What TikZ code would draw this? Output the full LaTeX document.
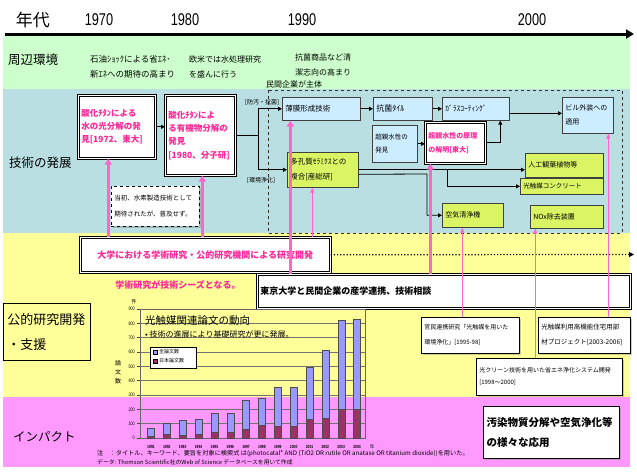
\documentclass[tikz,border=0pt]{standalone}
\usepackage{fontspec}
\setmainfont{Noto Sans CJK JP}
\newfontfamily\yearfont[FakeStretch=0.75]{Liberation Sans}
\usetikzlibrary{positioning}
\usetikzlibrary{calc}
\usetikzlibrary{arrows.meta}
\usetikzlibrary{shadows}

\definecolor{bandgreen}{RGB}{204,255,204}
\definecolor{bandteal}{RGB}{185,223,226}
\definecolor{bandyellow}{RGB}{255,255,153}
\definecolor{bandpink}{RGB}{255,153,255}
\definecolor{boxblue}{RGB}{204,236,255}
\definecolor{boxlime}{RGB}{218,245,100}
\definecolor{textmag}{RGB}{255,40,150}
\definecolor{linepink}{RGB}{255,102,204}
\definecolor{barblue}{RGB}{153,153,255}
\definecolor{barjp}{RGB}{153,51,102}

\begin{document}
\begin{tikzpicture}[x=1pt, y=-1pt,
    bandlbl/.style={anchor=west, inner sep=0pt, font=\fontsize{12.5}{15}\selectfont},
    envtxt/.style={anchor=west, inner sep=0pt, align=left, font=\fontsize{8}{15}\selectfont},
    yearlbl/.style={font=\yearfont\fontsize{17}{20}\selectfont},
    techbox/.style={rectangle, draw=black!75, line width=0.6pt, fill=boxblue, anchor=north west, inner sep=3pt, align=left},
    limebox/.style={techbox, fill=boxlime},
    keybox/.style={rectangle, draw=black, line width=0.6pt, double=white, double distance=1.2pt, fill=white, anchor=north west, inner sep=3pt, align=left, text=textmag, drop shadow={shadow xshift=1.5pt, shadow yshift=-1.5pt, opacity=0.4}},
    notebox/.style={rectangle, draw=black, line width=0.6pt, fill=white, anchor=north west, inner sep=3pt, align=left, drop shadow={shadow xshift=1.5pt, shadow yshift=-1.5pt, opacity=0.4}},
    conn/.style={line width=0.8pt, -{Triangle[length=4pt,width=4pt]}},
    seedline/.style={linepink, line width=2.5pt, -{Triangle[length=6pt,width=7pt]}},
    seedthin/.style={linepink, line width=1pt, -{Triangle[length=5pt,width=4pt]}},
    axlbl/.style={anchor=east, inner sep=0pt, font=\yearfont\fontsize{5}{6}\selectfont},
    chartgrid/.style={black!55, line width=0.5pt},
    ]
    \useasboundingbox (0,0) rectangle (637,474);

    % bands
    \fill[bandgreen] (3,36) rectangle (630,89);
    \fill[bandteal] (3,89) rectangle (630,233);
    \fill[bandyellow] (3,233) rectangle (630,397);
    \fill[bandpink] (3,397) rectangle (630,467);

    % time axis
    \node[font=\fontsize{17}{20}\selectfont] (era) at (33,20) {年代};
    \node[yearlbl] (y70) at (99,20) {1970};
    \node[yearlbl] (y80) at (185,20) {1980};
    \node[yearlbl] (y90) at (302,20) {1990};
    \node[yearlbl] (y00) at (532,20) {2000};
    \coordinate (axstart) at (5,34);
    \coordinate (axend) at (634,34);
    \draw[line width=3pt, -{Triangle[length=8pt,width=9pt]}] (axstart) -- (axend);

    % band titles
    \node[bandlbl] (env) at (8,60) {周辺環境};
    \node[bandlbl] (tech) at (9,163) {技術の発展};
    \node[bandlbl] (imp) at (13,437) {インパクト};

    % surroundings
    \node[envtxt, font=\fontsize{8.5}{15}\selectfont] (oil) at (90,66.5) {石油ｼｮｯｸによる省ｴﾈ･\\新ｴﾈへの期待の高まり};
    \node[envtxt] (water) at (189,66.5) {欧米では水処理研究\\を盛んに行う};
    \node[envtxt] (clean) at (295,64.5) {抗菌商品など清\\潔志向の高まり};
    \node[envtxt] (priv) at (266,84) {民間企業が主体};
    \draw[dashed, black!80, line width=0.6pt] (268,90) rectangle (622,233);

    % technology
    \node[keybox, text width=71pt, minimum height=63pt, font=\fontsize{8.5}{13}\selectfont\bfseries] (ti72) at (78,95) {酸化ﾁﾀﾝによる\\水の光分解の発\\見[1972、東大]};
    \node[keybox, text width=64pt, minimum height=80pt, font=\fontsize{8.5}{13.3}\selectfont\bfseries] (ti80) at (165,95) {酸化ﾁﾀﾝによ\\る有機物分解の\\発見\\{}[1980、分子研]};
    \node[notebox, dashed, drop shadow={opacity=0}, text width=82pt, minimum height=40pt, font=\fontsize{6.5}{16}\selectfont] (hope) at (111,186) {当初、水素製造技術として\\期待されたが、普及せず。};

    \node[font=\fontsize{6}{7}\selectfont, inner sep=0pt] (tagA) at (262,102) {[防汚・抗菌]};
    \node[font=\fontsize{6}{7}\selectfont, inner sep=0pt] (tagB) at (261,180) {[環境浄化]};

    \node[techbox, text width=72pt, minimum height=23pt, font=\fontsize{7.5}{9}\selectfont] (film) at (282,97) {薄膜形成技術};
    \node[techbox, text width=53pt, minimum height=23pt, font=\fontsize{8}{9}\selectfont] (tile) at (373,97) {抗菌ﾀｲﾙ};
    \node[techbox, text width=61pt, minimum height=23pt, font=\fontsize{7.5}{9}\selectfont] (glass) at (442,97) {ｶﾞﾗｽｺｰﾃｨﾝｸﾞ};
    \node[techbox, text width=45pt, minimum height=36pt, font=\fontsize{7}{14}\selectfont] (bill) at (562,97) {ビル外装への\\適用};
    \node[techbox, text width=39pt, minimum height=37pt, font=\fontsize{6.5}{13}\selectfont] (hakken) at (372,125) {超親水性の\\発見};
    \node[keybox, text width=54pt, minimum height=41pt, font=\fontsize{7}{14}\selectfont\bfseries] (genri) at (425,122) {超親水性の原理\\の解明[東大]};
    \node[limebox, text width=65pt, minimum height=35pt, font=\fontsize{7.5}{15}\selectfont] (poro) at (287,152) {多孔質ｾﾗﾐｸｽとの\\複合[産総研]};
    \node[limebox, text width=72pt, minimum height=24pt, font=\fontsize{7}{9}\selectfont] (jinko) at (525,153) {人工観葉植物等};
    \node[limebox, text width=77pt, minimum height=16pt, font=\fontsize{6.5}{8}\selectfont] (conc) at (520,178) {光触媒コンクリート};
    \node[limebox, text width=55pt, minimum height=24pt, font=\fontsize{7}{9}\selectfont] (air) at (442,203) {空気清浄機};
    \node[limebox, text width=67pt, minimum height=23pt, font=\fontsize{7}{9}\selectfont] (nox) at (530,205) {NOx除去装置};

    % technology flow
    \coordinate (fork) at (258,135);
    \coordinate (concbr) at (447,169.5);
    \coordinate (airbr) at (427,174);
    \draw[conn] (ti72.east) -- (ti72.east -| ti80.west);
    \draw[line width=0.8pt] (ti80.east |- fork) -- (fork);
    \draw[conn] (fork) |- (film.west);
    \draw[conn] (fork) |- (poro.west);
    \draw[conn] (film.east) -- (tile.west);
    \draw[conn] (tile.east) -- (glass.west);
    \draw[conn] ([yshift=-4.5pt]glass.east) -- ([yshift=-4.5pt]glass.east -| bill.west);
    \draw[conn] (hakken.east) -- (hakken.east -| genri.west);
    \draw[conn] (genri.east) -| ([xshift=24.5pt]glass.south);
    \draw[conn] (poro.east) -- (poro.east -| jinko.west);
    \draw[conn] (concbr) |- (conc.west);
    \draw[conn] ([yshift=-4.5pt]poro.east) -- (airbr) |- (air.west);

    % public research
    \node[keybox, minimum width=250pt, minimum height=35pt, align=center, font=\fontsize{9}{11}\selectfont\bfseries] (univ) at (80,237) {大学における学術研究・公的研究機関による研究開発};
    \coordinate (dotend) at (634,254.5);
    \draw[line width=1.2pt, dotted, -{Triangle[length=5pt,width=5pt]}] (univ.east) -- (dotend);
    \node[text=textmag, font=\fontsize{9}{11}\selectfont\bfseries] (seeds) at (178,285) {学術研究が技術シーズとなる。};
    \node[keybox, text=black, drop shadow={opacity=0}, text width=367pt, minimum height=34pt, font=\fontsize{9}{11}\selectfont\bfseries] (todai) at (257,274) {東京大学と民間企業の産学連携、技術相談};
    \node[rectangle, draw=black, line width=0.6pt, fill=bandyellow, anchor=north west, inner sep=4pt, text width=79pt, minimum height=57pt, align=left, font=\fontsize{13}{25}\selectfont] (pub) at (3,303) {公的研究開発\\・支援};
    \node[notebox, text width=92pt, minimum height=36pt, font=\fontsize{6}{15}\selectfont] (kanmin) at (421,317) {官民連携研究「光触媒を用いた\\環境浄化」[1995-98]};
    \node[notebox, text width=86pt, minimum height=36pt, font=\fontsize{6.5}{15}\selectfont] (jutaku) at (538,317) {光触媒利用高機能住宅用部\\材プロジェクト[2003-2006]};
    \node[notebox, text width=140pt, minimum height=37pt, font=\fontsize{6}{12}\selectfont] (hikari) at (476,358) {光クリーン技術を用いた省エネ浄化システム開発\\{}[1998～2000]};

    % impact
    \node[notebox, line width=1.2pt, text width=130pt, minimum height=52pt, font=\fontsize{10.5}{20}\selectfont\bfseries] (osen) at (483,406) {汚染物質分解や空気浄化等\\の様々な応用};

    % seeds arrows
    \draw[seedline] ([xshift=-8.5pt]ti72.south |- univ.north) -- ([xshift=-8.5pt]ti72.south);
    \draw[seedline] ([xshift=2pt]ti80.south |- univ.north) -- ([xshift=2pt]ti80.south);
    \draw[seedline] ([xshift=-31pt]film.south |- todai.north) -- ([xshift=-31pt]film.south);
    \draw[seedline] ([xshift=-25pt]genri.south |- todai.north) -- ([xshift=-25pt]genri.south);
    \draw[seedthin] ([xshift=-10.5pt]poro.south |- univ.north) -- ([xshift=-10.5pt]poro.south);
    \draw[seedthin] ([xshift=-10.5pt]air.south |- kanmin.north) -- ([xshift=-10.5pt]air.south);
    \draw[seedthin] ([xshift=-31.5pt]nox.south |- hikari.north) -- ([xshift=-31.5pt]nox.south);
    \draw[seedthin] ([xshift=20.5pt]bill.south |- jutaku.north) -- ([xshift=20.5pt]bill.south);

    % paper chart
    \foreach \v in {100,200,...,800}
        \draw[chartgrid] (140,{438-\v*0.1433}) -- (365,{438-\v*0.1433});
    \draw[black!60, line width=0.6pt] (140,309) rectangle (365,438);
    \foreach \v [count=\k] in {0,100,...,900} {
        \draw[black!70, line width=0.4pt] (137,{438-\v*0.1433}) -- (140,{438-\v*0.1433});
        \node[axlbl] (tk\k) at (135,{438-\v*0.1433}) {\v};
    }
    \foreach \tot/\jp [count=\i from 0] in {70/15, 105/28, 125/22, 135/28, 170/38, 175/38, 262/62, 275/92, 352/82, 357/85, 495/135, 615/142, 820/198, 830/198} {
        \filldraw[fill=barblue, draw=black!70, line width=0.3pt] ({151+\i*15.85-3.5},438) rectangle ({151+\i*15.85+3.5},{438-\tot*0.1433});
        \filldraw[fill=barjp, draw=black!70, line width=0.3pt] ({151+\i*15.85-3.5},438) rectangle ({151+\i*15.85+3.5},{438-\jp*0.1433});
        \pgfmathtruncatemacro{\yr}{1991+\i}
        \node[inner sep=0pt, font=\yearfont\fontsize{4.5}{5}\selectfont\bfseries] (yr\i) at ({151+\i*15.85},447) {\yr};
    }
    \node[inner sep=0pt, font=\fontsize{4.5}{5}\selectfont] (nen) at (372,447) {年};
    \node[inner sep=0pt, font=\fontsize{5}{6}\selectfont] (ken) at (134,302) {件};
    \node[inner sep=0pt, align=center, font=\fontsize{6}{9}\selectfont] (ylab) at (118,372) {論\\文\\数};
    \node[anchor=west, inner sep=0pt, font=\fontsize{10.5}{12}\selectfont] (ctitle) at (145,321) {光触媒関連論文の動向};
    \node[anchor=west, inner sep=0pt, font=\fontsize{8}{10}\selectfont] (csub) at (145,334) {• 技術の進展により基礎研究が更に発展。};
    \node[draw=black, fill=white, line width=0.5pt, anchor=north west, inner sep=0pt, minimum width=46pt, minimum height=21pt] (legend) at (150,347) {};
    \filldraw[fill=barblue, draw=black, line width=0.3pt] (153,350) rectangle (157,354);
    \node[anchor=west, inner sep=0pt, font=\fontsize{5}{6}\selectfont] (legall) at (159,352) {全論文数};
    \filldraw[fill=barjp, draw=black, line width=0.3pt] (153,359) rectangle (157,363);
    \node[anchor=west, inner sep=0pt, font=\fontsize{5}{6}\selectfont] (legjp) at (159,361) {日本論文数};
    \node[anchor=west, inner sep=0pt, font=\fontsize{6.2}{7}\selectfont] (note1) at (97,454) {注\quad ：タイトル、キーワード、要旨を対象に検索式 は(photocatal* AND (TiO2 OR rutile OR anatase OR titanium dioxide))を用いた。};
    \node[anchor=west, inner sep=0pt, font=\fontsize{5.8}{7}\selectfont] (note2) at (97,462) {データ: Thomson Scientific社のWeb of Science データベースを用いて作成};
\end{tikzpicture}
\end{document}
